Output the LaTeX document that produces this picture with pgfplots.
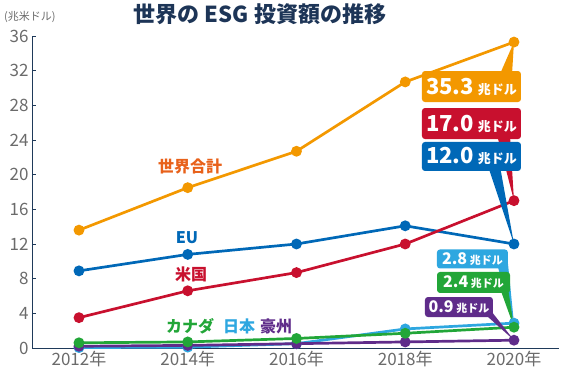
\documentclass[border=0pt]{standalone}
\usepackage{pgfplots}
\pgfplotsset{compat=1.18}
\usepackage{fontspec}
\setmainfont{Noto Sans CJK JP}
\definecolor{cWorld}{HTML}{F39800}
\definecolor{cWorldT}{HTML}{E8611A}
\definecolor{cEU}{HTML}{0068B7}
\definecolor{cUS}{HTML}{C8102E}
\definecolor{cCA}{HTML}{22A638}
\definecolor{cJP}{HTML}{2EA7E0}
\definecolor{cAU}{HTML}{5F2C8A}
\definecolor{cTitle}{HTML}{1D3557}
\definecolor{cTick}{HTML}{6B6B6B}
\definecolor{cAxis}{HTML}{1F3A5A}
\begin{document}
\begin{tikzpicture}[x=1pt,y=1pt]
\path[use as bounding box] (0,0) rectangle (570,380);
\node[font=\bfseries\fontsize{22}{24}\selectfont, text=cTitle] at (260,366) {世界の ESG 投資額の推移};
\node[font=\fontsize{11}{12}\selectfont, text=cTick, anchor=west, inner sep=0] at (4,363) {(兆米ドル)};
\begin{axis}[
 at={(32pt,32pt)}, anchor=south west, scale only axis, width=527pt, height=312pt,
 xmin=-0.432, xmax=4.414, ymin=0, ymax=36,
 axis x line=bottom, axis y line=left, axis line style={cAxis, line width=1pt, -},
 xtick={0,1,2,3,4}, xticklabels={2012年,2014年,2016年,2018年,2020年},
 ytick={0,4,...,36},
 major tick length=4pt, tick style={cAxis, line width=0.8pt}, xtick style={draw=none},
 tick align=inside,
 ticklabel style={text=cTick, font=\fontsize{17}{19}\selectfont},
 /pgf/number format/assume math mode=true,
 clip=false,
 every axis plot/.append style={line width=2.7pt, mark=*, mark size=4pt, mark options={solid}},
]
\addplot[color=cWorld] coordinates {(0,13.6) (1,18.5) (2,22.7) (3,30.7) (4,35.3)};
\addplot[color=cEU] coordinates {(0,8.9) (1,10.8) (2,12.0) (3,14.1) (4,12.0)};
\addplot[color=cUS] coordinates {(0,3.5) (1,6.6) (2,8.7) (3,12.0) (4,17.0)};
\addplot[color=cJP] coordinates {(0,0.05) (1,0.1) (2,0.5) (3,2.2) (4,2.87)};
\addplot[color=cAU] coordinates {(0,0.2) (1,0.3) (2,0.5) (3,0.7) (4,0.9)};
\addplot[color=cCA] coordinates {(0,0.6) (1,0.7) (2,1.1) (3,1.7) (4,2.4)};
% callouts
\fill[cWorld] (axis cs:3.871,31.6) -- (axis cs:3.982,31.6) -- (axis cs:4,35.3) -- cycle;
\node[fill=cWorld, rounded corners=3pt, minimum width=99pt, minimum height=31pt, text=white, inner sep=0]
  at (axis cs:3.609,30.17) {\bfseries\fontsize{22}{24}\selectfont 35.3\,{\fontsize{13}{14}\selectfont 兆ドル}};
\fill[cUS] (axis cs:3.844,24.6) -- (axis cs:3.963,24.6) -- (axis cs:4,17.0) -- cycle;
\node[fill=cUS, rounded corners=3pt, minimum width=99pt, minimum height=31pt, text=white, inner sep=0]
  at (axis cs:3.609,25.90) {\bfseries\fontsize{22}{24}\selectfont 17.0\,{\fontsize{13}{14}\selectfont 兆ドル}};
\fill[cEU] (axis cs:3.761,21.0) -- (axis cs:3.871,21.0) -- (axis cs:4,12.0) -- cycle;
\node[fill=cEU, rounded corners=3pt, minimum width=99pt, minimum height=29pt, text=white, inner sep=0]
  at (axis cs:3.609,22.1) {\bfseries\fontsize{22}{24}\selectfont 12.0\,{\fontsize{13}{14}\selectfont 兆ドル}};
\fill[cJP] (axis cs:3.844,9.7) -- (axis cs:3.945,9.7) -- (axis cs:4,2.87) -- cycle;
\node[fill=cJP, rounded corners=3pt, minimum width=71pt, minimum height=19pt, text=white, inner sep=0]
  at (axis cs:3.618,10.27) {\bfseries\fontsize{16}{18}\selectfont 2.8\,{\fontsize{11}{12}\selectfont 兆ドル}};
\fill[cCA] (axis cs:3.871,6.9) -- (axis cs:3.945,6.9) -- (axis cs:4,2.4) -- cycle;
\node[fill=cCA, rounded corners=3pt, minimum width=73pt, minimum height=21pt, text=white, inner sep=0]
  at (axis cs:3.628,7.56) {\bfseries\fontsize{16}{18}\selectfont 2.4\,{\fontsize{11}{12}\selectfont 兆ドル}};
\fill[cAU] (axis cs:3.724,4.0) -- (axis cs:3.807,4.0) -- (axis cs:4,0.9) -- cycle;
\node[fill=cAU, rounded corners=3pt, minimum width=68pt, minimum height=20pt, text=white, inner sep=0]
  at (axis cs:3.494,4.73) {\bfseries\fontsize{16}{18}\selectfont 0.9\,{\fontsize{11}{12}\selectfont 兆ドル}};
\end{axis}
\node[font=\bfseries\fontsize{16}{18}\selectfont, text=cWorldT] at (190,214) {世界合計};
\node[font=\bfseries\fontsize{16}{18}\selectfont, text=cEU] at (187,142) {EU};
\node[font=\bfseries\fontsize{16}{18}\selectfont, text=cUS] at (191,106) {米国};
\node[font=\bfseries\fontsize{16}{18}\selectfont, text=cCA, anchor=west, inner sep=0] at (166,54) {カナダ};
\node[font=\bfseries\fontsize{16}{18}\selectfont, text=cJP, anchor=west, inner sep=0] at (223,54) {日本};
\node[font=\bfseries\fontsize{16}{18}\selectfont, text=cAU, anchor=west, inner sep=0] at (260,54) {豪州};
\end{tikzpicture}
\end{document}
